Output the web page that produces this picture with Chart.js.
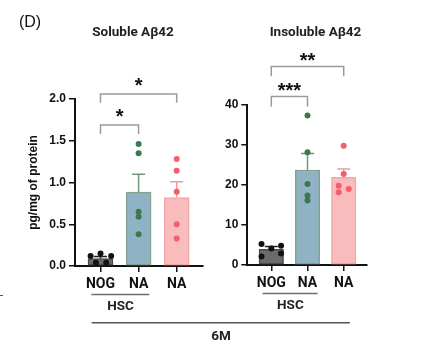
<!DOCTYPE html>
<html><head><meta charset="utf-8">
<script src="https://cdn.jsdelivr.net/npm/chart.js@4.4.1/dist/chart.umd.min.js"></script>
<style>
html,body{margin:0;padding:0;background:#fff;}
#wrap{position:relative;width:427px;height:357px;overflow:hidden;background:#fff;}
canvas{position:absolute;left:0;top:0;}
.t{position:absolute;white-space:nowrap;transform:translate(-50%,-50%);color:#111;}
</style></head><body>
<div id="wrap">
<canvas id="c1" width="427" height="357"></canvas>
<canvas id="c2" width="427" height="357"></canvas>
<div class="t" style="left:30px;top:22px;font:16px 'Liberation Sans',Arial,sans-serif;">(D)</div>
<div style="position:absolute;left:0;top:295px;width:3px;height:1px;background:#555;"></div>
</div>
<script>
// ---------------- DATA ----------------
const categories = ['NOG', 'NA', 'NA'];
const groupLabel = 'HSC';
const timeLabel = '6M';
const solubleTitle = 'Soluble A\u03b242';
const insolubleTitle = 'Insoluble A\u03b242';
const yTitle = 'pg/mg of protein';

const solubleTicks = [0, 0.5, 1.0, 1.5, 2.0];
const solubleMean = [0.09, 0.885, 0.82];
const solubleSem = [0.025, 0.215, 0.19];
const solubleNOG = [0.12, 0.15, 0.12, 0.04, 0.04];
const solubleHSCNA = [1.46, 1.35, 0.65, 0.59, 0.38];
const solubleNA = [1.28, 1.14, 0.89, 0.50, 0.33];
const solubleSig = ['*', '*'];

const insolubleTicks = [0, 10, 20, 30, 40];
const insolubleMean = [3.9, 23.75, 21.9];
const insolubleSem = [0.7, 4.15, 2.1];
const insolubleNOG = [5.25, 4.1, 4.8, 2.1, 2.9];
const insolubleHSCNA = [37.4, 28.2, 20.25, 17.4, 16.1];
const insolubleNA = [29.8, 22.75, 19.8, 19.0, 18.2];
const insolubleSig = ['**', '***'];

// ---------------- STYLE / LAYOUT ----------------
const barFill = ['#6b6b6b', '#8fb3c4', '#f9bcbc'];
const barBorder = ['#4a4a4a', '#86a08f', '#f4a6a6'];
const pointColor = ['#111111', '#3b7a4e', '#f25f6a'];
const errColor = ['#222222', '#6f9878', '#f29a9a'];
const labelFont = "'Roboto', 'Liberation Sans', sans-serif";
const tickFont = "'Liberation Sans', Arial, sans-serif";

function bracketPlugin(cfg) {
  return {
    id: 'annot_' + cfg.id,
    afterDatasetDraw(chart, args) {
      if (args.index !== 0) return;
      const ctx = chart.ctx, xs = chart.scales.x, ys = chart.scales.y;
      ctx.save();
      cfg.mean.forEach((m, i) => {
        const x = xs.getPixelForValue(i + 1);
        const y0 = ys.getPixelForValue(m);
        const y1 = ys.getPixelForValue(m + cfg.sem[i]);
        ctx.strokeStyle = errColor[i];
        ctx.lineWidth = 1.5;
        ctx.beginPath();
        ctx.moveTo(x, y0); ctx.lineTo(x, y1);
        ctx.moveTo(x - 6.5, y1); ctx.lineTo(x + 6.5, y1);
        ctx.stroke();
      });
      ctx.restore();
    },
    afterDraw(chart) {
      const ctx = chart.ctx, xs = chart.scales.x, ys = chart.scales.y, ca = chart.chartArea;
      ctx.save();
      // significance brackets
      cfg.brackets.forEach((b, k) => {
        const xa = xs.getPixelForValue(b.from), xb = xs.getPixelForValue(b.to);
        const yl = ys.getPixelForValue(b.y), yleg = ys.getPixelForValue(b.leg);
        ctx.strokeStyle = '#9a9a9a';
        ctx.lineWidth = 1.5;
        ctx.beginPath();
        ctx.moveTo(xa, yleg); ctx.lineTo(xa, yl); ctx.lineTo(xb, yl); ctx.lineTo(xb, yleg);
        ctx.stroke();
        ctx.fillStyle = '#111';
        ctx.font = "bold 20px 'Liberation Sans', Arial, sans-serif";
        ctx.textAlign = 'center';
        ctx.textBaseline = 'alphabetic';
        const txt = cfg.sig[k];
        const mt = ctx.measureText(txt);
        const cy = yl - b.starGap;
        const base = cy + (mt.actualBoundingBoxAscent - mt.actualBoundingBoxDescent) / 2;
        ctx.fillText(txt, (xa + xb) / 2, base);
      });
      // title
      ctx.fillStyle = '#222';
      ctx.font = "bold 13.5px " + labelFont;
      ctx.textAlign = 'center';
      ctx.textBaseline = 'middle';
      ctx.fillText(cfg.title, (ca.left + ca.right) / 2 + cfg.titleDx, 33);
      // HSC group line and label
      const hx0 = xs.getPixelForValue(0.76), hx1 = xs.getPixelForValue(2.28);
      ctx.strokeStyle = '#6e6e6e';
      ctx.lineWidth = 1.5;
      ctx.beginPath();
      ctx.moveTo(hx0, ca.bottom + 28.5); ctx.lineTo(hx1, ca.bottom + 28.5);
      ctx.stroke();
      ctx.fillStyle = '#222';
      ctx.font = "bold 13.5px " + labelFont;
      ctx.fillText(groupLabel, (xs.getPixelForValue(1) + xs.getPixelForValue(2)) / 2 + 1, ca.bottom + 41);
      // y title
      if (cfg.yTitle) {
        ctx.save();
        ctx.translate(34, (ca.top + ca.bottom) / 2);
        ctx.rotate(-Math.PI / 2);
        ctx.font = "bold 12px " + tickFont;
        ctx.fillStyle = '#111';
        ctx.textAlign = 'center';
        ctx.textBaseline = 'middle';
        ctx.fillText(cfg.yTitle, 0, 0);
        ctx.restore();
      }
      if (cfg.after) cfg.after(chart);
      ctx.restore();
    }
  };
}

function makeChart(id, cfg) {
  const pts = (vals, cat, jit) => vals.map((v, i) => ({ x: cat + (jit ? jit[i] : 0), y: v }));
  const scatter = (vals, i, jit) => ({
    type: 'scatter', data: pts(vals, i + 1, jit), order: 1,
    pointRadius: 3, pointHoverRadius: 3, pointBorderWidth: 0,
    pointBackgroundColor: pointColor[i], backgroundColor: pointColor[i]
  });
  return new Chart(document.getElementById(id), {
    type: 'bar',
    data: {
      datasets: [
        {
          type: 'bar', order: 2,
          data: cfg.mean.map((m, i) => ({ x: i + 1, y: m })),
          backgroundColor: barFill, borderColor: barBorder, borderWidth: 1.5,
          barThickness: cfg.barW, borderSkipped: false
        },
        scatter(cfg.g[0], 0, cfg.jit[0]),
        scatter(cfg.g[1], 1, cfg.jit[1]),
        scatter(cfg.g[2], 2, cfg.jit[2])
      ]
    },
    options: {
      responsive: false, animation: false, devicePixelRatio: 1,
      events: [],
      layout: { padding: cfg.pad },
      plugins: { legend: { display: false }, tooltip: { enabled: false }, title: { display: false } },
      scales: {
        x: {
          type: 'linear', min: cfg.xmin, max: cfg.xmax, offset: false,
          afterBuildTicks: s => { s.ticks = categories.map((c, i) => ({ value: i + 1 })); },
          afterFit: s => { s.height = 25; },
          ticks: {
            autoSkip: false, maxRotation: 0, padding: 4, color: '#111',
            font: { family: labelFont, size: 14, weight: 'bold' },
            callback: v => categories[Math.round(v) - 1]
          },
          grid: { drawOnChartArea: false, offset: false, tickLength: 6, color: '#111', lineWidth: 1.5 },
          border: { color: '#111', width: 2 }
        },
        y: {
          min: cfg.ticks[0], max: cfg.ticks[cfg.ticks.length - 1],
          afterBuildTicks: s => { s.ticks = cfg.ticks.map(v => ({ value: v })); },
          afterFit: s => { s.width = 50; },
          ticks: {
            padding: 3, color: '#111',
            font: { family: tickFont, size: 12, weight: 'bold' },
            callback: v => cfg.fmt(v)
          },
          grid: { drawOnChartArea: false, tickLength: 6, color: '#111', lineWidth: 1.5 },
          border: { color: '#111', width: 2 }
        }
      }
    },
    plugins: [bracketPlugin(cfg)]
  });
}

const chart1 = makeChart('c1', {
  id: 'sol', title: solubleTitle, titleDx: -6, yTitle: yTitle,
  mean: solubleMean, sem: solubleSem, sig: solubleSig,
  g: [solubleNOG, solubleHSCNA, solubleNA],
  jit: [[-0.26, 0, 0.28, -0.12, 0.15], null, null],
  ticks: solubleTicks, fmt: v => v.toFixed(1),
  xmin: 0.331, xmax: 3.69, barW: 25,
  pad: { left: 25, right: 224, top: 99, bottom: 66 },
  brackets: [
    { from: 1, to: 3, y: 2.06, leg: 1.955, starGap: 12 },
    { from: 1, to: 2, y: 1.69, leg: 1.58, starGap: 12 }
  ]
});

const chart2 = makeChart('c2', {
  id: 'insol', title: insolubleTitle, titleDx: 8.5,
  mean: insolubleMean, sem: insolubleSem, sig: insolubleSig,
  g: [insolubleNOG, insolubleHSCNA, insolubleNA],
  jit: [[-0.27, 0, 0.27, -0.27, 0.27], null, [0, 0, -0.14, 0.14, -0.14]],
  ticks: insolubleTicks, fmt: v => String(v),
  xmin: 0.337, xmax: 3.635, barW: 24.5,
  pad: { left: 197.3, right: 60.3, top: 105, bottom: 67 },
  brackets: [
    { from: 1, to: 3, y: 49.6, leg: 47.2, starGap: 10 },
    { from: 1, to: 2, y: 42.1, leg: 39.6, starGap: 10 }
  ],
  after: chart => {
    const ctx = chart.ctx;
    const x0 = chart1.scales.x.getPixelForValue(0.77);
    const x1 = chart.scales.x.getPixelForValue(3.17);
    const y = chart1.chartArea.bottom + 56.7;
    ctx.strokeStyle = '#555';
    ctx.lineWidth = 1.5;
    ctx.beginPath(); ctx.moveTo(x0, y); ctx.lineTo(x1, y); ctx.stroke();
    ctx.fillStyle = '#222';
    ctx.font = "bold 13.5px " + labelFont;
    ctx.textAlign = 'center';
    ctx.textBaseline = 'middle';
    ctx.fillText(timeLabel, (chart1.chartArea.right + chart.chartArea.left) / 2 - 4, y + 13.5);
  }
});
</script>
</body></html>
